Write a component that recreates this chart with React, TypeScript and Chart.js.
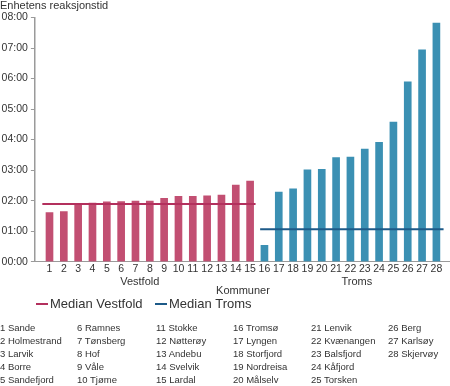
import React, { useEffect, useRef } from "react";
import { Chart, registerables } from "chart.js";

Chart.register(...registerables);

// ---------- data ----------
const categories = ["1", "2", "3", "4", "5", "6", "7", "8", "9", "10", "11", "12", "13", "14", "15", "16", "17", "18", "19", "20", "21", "22", "23", "24", "25", "26", "27", "28"];

// response time in hours
const vestfoldValues = [1.61, 1.64, 1.89, 1.92, 1.96, 1.97, 1.99, 1.99, 2.08, 2.14, 2.14, 2.16, 2.18, 2.51, 2.64];
const tromsValues = [0.54, 2.28, 2.39, 3.01, 3.03, 3.41, 3.43, 3.69, 3.91, 4.57, 5.89, 6.94, 7.82];

const vestfoldMedian = 1.89;
const tromsMedian = 1.06;
const vestfoldSpan = [0.5, 15.38];
const tromsSpan = [15.7, 28.5];

const yTickLabels = ["00:00", "01:00", "02:00", "03:00", "04:00", "05:00", "06:00", "07:00", "08:00"];

const vestfoldNames = ["Sande", "Holmestrand", "Larvik", "Borre", "Sandefjord", "Ramnes", "Tønsberg", "Hof", "Våle", "Tjøme", "Stokke", "Nøtterøy", "Andebu", "Svelvik", "Lardal"];
const tromsNames = ["Tromsø", "Lyngen", "Storfjord", "Nordreisa", "Målselv", "Lenvik", "Kvænangen", "Balsfjord", "Kåfjord", "Torsken", "Berg", "Karlsøy", "Skjervøy"];

const groupLabels = [
  { label: "Vestfold", at: 7.3 },
  { label: "Troms", at: 22.45 },
];
const yAxisTitle = "Enhetens reaksjonstid";
const xAxisTitle = "Kommuner";

// ---------- style ----------
const FONT = '"Liberation Sans", Arial, Helvetica, sans-serif';
const textColor = "#333333";
const axisColor = "#9a9a9a";
const vestfoldBar = "#c24f72";
const tromsBar = "#3b90b3";
const vestfoldLine = "#b3305d";
const tromsLine = "#1d5a88";

const listColumnsX = [0, 77, 156, 233, 311, 388];

const annotationPlugin = {
  id: "annotations",
  afterDraw(chart: any) {
    const { ctx, chartArea, scales } = chart;
    const xs = scales.x;
    ctx.save();
    ctx.fillStyle = textColor;
    ctx.textBaseline = "middle";
    ctx.font = `11px ${FONT}`;
    ctx.textAlign = "left";
    ctx.fillText(yAxisTitle, 0, 6);
    ctx.textAlign = "center";
    groupLabels.forEach((g) => ctx.fillText(g.label, xs.getPixelForValue(g.at), 282));
    ctx.fillText(xAxisTitle, (chartArea.left + chartArea.right) / 2, 291);

    // legend
    const legendX = [36, 155];
    const legendY = 304;
    ctx.font = `13px ${FONT}`;
    ctx.textAlign = "left";
    const lines = chart.data.datasets.filter((d: any) => d.type === "line");
    lines.forEach((d: any, i: number) => {
      const x0 = legendX[i];
      ctx.strokeStyle = d.borderColor;
      ctx.lineWidth = 2;
      ctx.beginPath();
      ctx.moveTo(x0, legendY);
      ctx.lineTo(x0 + 12, legendY);
      ctx.stroke();
      ctx.fillStyle = textColor;
      ctx.fillText(d.label, x0 + 14, legendY);
    });
    ctx.restore();
  },
};

export default function App() {
  const ref = useRef<HTMLCanvasElement>(null);

  useEffect(() => {
    const canvas = ref.current;
    if (!canvas) return;
    const chart = new Chart(canvas, {
      type: "bar",
      data: {
        datasets: [
          {
            type: "line",
            label: "Median Vestfold",
            data: vestfoldSpan.map((x) => ({ x, y: vestfoldMedian })),
            borderColor: vestfoldLine,
            borderWidth: 2,
            pointRadius: 0,
            order: 0,
          } as any,
          {
            type: "line",
            label: "Median Troms",
            data: tromsSpan.map((x) => ({ x, y: tromsMedian })),
            borderColor: tromsLine,
            borderWidth: 2,
            pointRadius: 0,
            order: 0,
          } as any,
          {
            type: "bar",
            label: "Vestfold",
            data: vestfoldValues.map((y, i) => ({ x: Number(categories[i]), y })),
            backgroundColor: vestfoldBar,
            barThickness: 7,
            grouped: false,
            order: 1,
          } as any,
          {
            type: "bar",
            label: "Troms",
            data: tromsValues.map((y, i) => ({ x: Number(categories[i + vestfoldValues.length]), y })),
            backgroundColor: tromsBar,
            barThickness: 7,
            grouped: false,
            order: 1,
          } as any,
        ],
      },
      options: {
        animation: false,
        responsive: false,
        maintainAspectRatio: false,
        devicePixelRatio: 1,
        layout: { padding: { top: 17.5, left: 0, right: 0, bottom: 0 } },
        plugins: {
          legend: { display: false },
          tooltip: { enabled: false },
          title: { display: false },
        },
        scales: {
          x: {
            type: "linear",
            min: 0.5,
            max: 28.5,
            afterBuildTicks: (s: any) => {
              s.ticks = categories.map((c) => ({ value: Number(c) }));
            },
            afterFit: (s: any) => {
              s.height = 124.3;
            },
            grid: { display: false, drawTicks: false, tickLength: 0 },
            border: { display: true, color: axisColor, width: 1 },
            ticks: {
              autoSkip: false,
              maxRotation: 0,
              padding: 1,
              color: textColor,
              font: { family: FONT, size: 10.5 },
              callback: (v: any) => String(v),
            },
          },
          y: {
            type: "linear",
            min: 0,
            max: 8,
            afterFit: (s: any) => {
              s.width = 34.9;
            },
            grid: { drawOnChartArea: false, drawTicks: true, tickLength: 4, color: axisColor },
            border: { display: true, color: axisColor, width: 1.5 },
            ticks: {
              stepSize: 1,
              padding: 3,
              color: textColor,
              font: { family: FONT, size: 10.5 },
              callback: (v: any) => yTickLabels[Number(v)] ?? "",
            },
          },
        },
      },
      plugins: [annotationPlugin],
    } as any);
    return () => chart.destroy();
  }, []);

  const allNames = [...vestfoldNames, ...tromsNames];
  const columns: string[][] = [];
  for (let c = 0; c < listColumnsX.length; c++) {
    columns.push(allNames.slice(c * 5, c * 5 + 5).map((n, r) => `${c * 5 + r + 1} ${n}`));
  }

  return (
    <div
      style={{
        position: "absolute",
        left: 0,
        top: 0,
        width: 450,
        height: 386,
        overflow: "hidden",
        background: "#ffffff",
        fontFamily: FONT,
        color: textColor,
      }}
    >
      <canvas ref={ref} width={451} height={386} style={{ position: "absolute", left: 0, top: 0, width: 451, height: 386 }} />
      {columns.map((col, c) =>
        col.map((t, r) => (
          <div
            key={`${c}-${r}`}
            style={{
              position: "absolute",
              left: listColumnsX[c],
              top: 321.5 + r * 13,
              fontSize: 9.5,
              lineHeight: "12px",
              whiteSpace: "nowrap",
            }}
          >
            {t}
          </div>
        ))
      )}
    </div>
  );
}
